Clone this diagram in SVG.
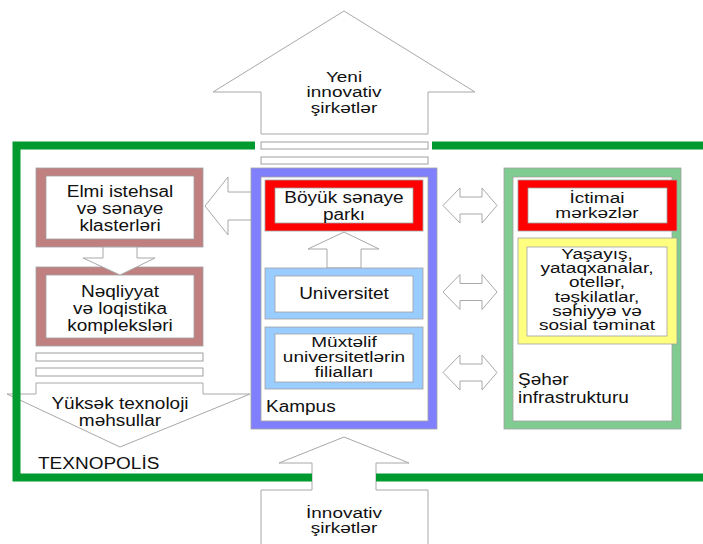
<svg xmlns="http://www.w3.org/2000/svg" width="703" height="544" viewBox="0 0 703 544">
<style>
.t{font-family:"Liberation Sans",Arial,sans-serif;font-size:19px;fill:#111}
.m{text-anchor:middle}
.ar{fill:#fff;stroke:#a8a8a8;stroke-width:1}
.bar{fill:#fff;stroke:#a0a0a0;stroke-width:1}
.in{fill:#fff;stroke:#a0a0a0;stroke-width:0.8}
.edge{stroke:#a0a0a0;stroke-width:0.8}
.g{fill:none;stroke:#009a2e;stroke-width:8}
</style>
<rect width="703" height="544" fill="#fff"/>
<g id="connectors">
<polygon class="ar" points="261,134 261,92 213,92 344,11 475,92 428,92 428,134"/>
<rect class="bar" x="261" y="142" width="167" height="7"/>
<rect class="bar" x="261" y="157" width="167" height="7"/>
<polygon class="ar" points="253,192 228,192 228,177 205,206 228,235 228,220 253,220"/>
<rect class="bar" x="36" y="353" width="167" height="8"/>
<rect class="bar" x="36" y="368" width="167" height="8"/>
<polygon class="ar" points="36,383 203,383 203,394 250,394 120,447 7,394 36,394"/>
<polygon class="ar" points="443,205.5 460,188 460,197 482,197 482,188 497,205.5 482,223 482,214 460,214 460,223"/>
<polygon class="ar" points="443,292 460,274.5 460,283.5 482,283.5 482,274.5 497,292 482,309.5 482,300.5 460,300.5 460,309.5"/>
<polygon class="ar" points="443,372.5 460,355 460,364 482,364 482,355 497,372.5 482,390 482,381 460,381 460,390"/>
<polygon class="ar" points="261,545 261,490 312,490 312,463 279,463 344,437 409,463 376,463 376,490 428,490 428,545"/>
</g>
<g id="texnopolis">
<path class="g" d="M255,145.5 H16.5 V477.5 H312"/>
<path class="g" d="M432,145.5 H710"/>
<path class="g" d="M376,477.5 H710"/>
<text class="t" transform="translate(38,469) scale(1,0.82)">TEXNOPOLİS</text>
</g>
<g id="top-arrow-label">
<text class="t m" transform="translate(344,82) scale(1,0.76)"><tspan x="0">Yeni</tspan><tspan x="0" dy="20.4">innovativ</tspan><tspan x="0" dy="20.4">şirkətlər</tspan></text>
</g>
<g id="elmi">
<rect x="36" y="168" width="167" height="79" fill="#c08080" class="edge"/>
<rect class="in" x="46" y="176" width="148" height="63"/>
<text class="t m" transform="translate(120,197) scale(1,0.82)"><tspan x="0">Elmi istehsal</tspan><tspan x="0" dy="20.5">və sənaye</tspan><tspan x="0" dy="20.5">klasterləri</tspan></text>
</g>
<g id="neqliyyat">
<rect x="36" y="267" width="167" height="79" fill="#c08080" class="edge"/>
<rect class="in" x="46" y="275" width="148" height="63"/>
<text class="t m" transform="translate(120,297) scale(1,0.82)"><tspan x="0">Nəqliyyat</tspan><tspan x="0" dy="20.5">və loqistika</tspan><tspan x="0" dy="20.5">kompleksləri</tspan></text>
</g>
<polygon class="ar" points="103,247 103,258 83,258 120,275 155,258 137,258 137,247"/>
<g id="yuksek-label">
<text class="t m" transform="translate(120,409) scale(1,0.82)"><tspan x="0">Yüksək texnoloji</tspan><tspan x="0" dy="20.5">məhsullar</tspan></text>
</g>
<g id="kampus">
<rect x="251" y="168" width="186" height="261" fill="#8080ff" class="edge"/>
<rect class="in" x="261" y="177" width="167" height="244"/>
<text class="t" transform="translate(266,412) scale(1,0.82)">Kampus</text>
</g>
<g id="boyuk">
<rect x="265" y="180" width="158" height="51" fill="#ff0000" class="edge"/>
<rect class="in" x="275" y="188" width="138" height="35"/>
<text class="t m" transform="translate(344,203) scale(1,0.82)"><tspan x="0">Böyük sənaye</tspan><tspan x="0" dy="20.5">parkı</tspan></text>
</g>
<polygon class="ar" points="327,268 327,249 308,249 344,232 379,249 361,249 361,268"/>
<g id="universitet">
<rect x="265" y="268" width="158" height="51" fill="#99ccff" class="edge"/>
<rect class="in" x="275" y="276" width="138" height="36"/>
<text class="t m" transform="translate(344,299) scale(1,0.82)">Universitet</text>
</g>
<g id="muxtelif">
<rect x="265" y="327" width="158" height="62" fill="#99ccff" class="edge"/>
<rect class="in" x="275" y="334" width="138" height="48"/>
<text class="t m" transform="translate(344,347) scale(1,0.78)"><tspan x="0">Müxtəlif</tspan><tspan x="0" dy="19.2">universitetlərin</tspan><tspan x="0" dy="19.2">filialları</tspan></text>
</g>
<g id="seher">
<rect x="504" y="168" width="177" height="261" fill="#80cc90" class="edge"/>
<rect class="in" x="513" y="177" width="159" height="244"/>
<text class="t" transform="translate(518,385) scale(1,0.82)"><tspan x="0">Şəhər</tspan><tspan x="0" dy="22">infrastrukturu</tspan></text>
</g>
<g id="ictimai">
<rect x="518" y="180" width="159" height="51" fill="#ff0000" class="edge"/>
<rect class="in" x="528" y="188" width="139" height="35"/>
<text class="t m" transform="translate(597,203) scale(1,0.78)"><tspan x="0">İctimai</tspan><tspan x="0" dy="19.2">mərkəzlər</tspan></text>
</g>
<g id="yasayis">
<rect x="518" y="238" width="159" height="106" fill="#ffff80" class="edge"/>
<rect class="in" x="527" y="247" width="140" height="89"/>
<text class="t m" transform="translate(597,259) scale(1,0.74)"><tspan x="0">Yaşayış,</tspan><tspan x="0" dy="19.2">yataqxanalar,</tspan><tspan x="0" dy="19.2">otellər,</tspan><tspan x="0" dy="19.2">təşkilatlar,</tspan><tspan x="0" dy="19.2">səhiyyə və</tspan><tspan x="0" dy="19.2">sosial təminat</tspan></text>
</g>
<g id="bottom-arrow-label">
<text class="t m" transform="translate(344,518) scale(1,0.76)"><tspan x="0">İnnovativ</tspan><tspan x="0" dy="20">şirkətlər</tspan></text>
</g>
</svg>
